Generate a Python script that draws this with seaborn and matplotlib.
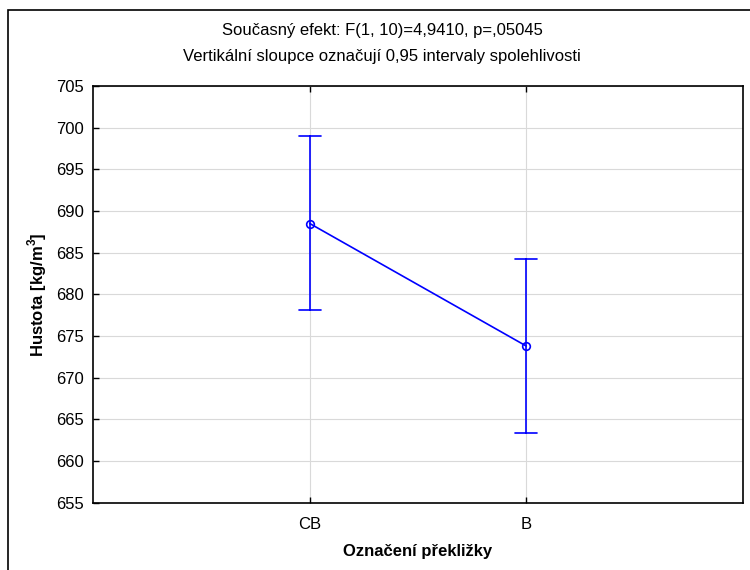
import matplotlib
matplotlib.use("Agg")
import matplotlib.pyplot as plt
import seaborn as sns
import pandas as pd
import numpy as np
from matplotlib.patches import Rectangle

categories = ["CB", "B"]
means = [688.5, 673.8]
ci_lower = [678.1, 663.4]
ci_upper = [699.0, 684.2]
yticks = [655, 660, 665, 670, 675, 680, 685, 690, 695, 700, 705]

rows = []
for c, m, lo, hi in zip(categories, means, ci_lower, ci_upper):
    for v in (lo, m, hi):
        rows.append({"cat": c, "val": v})
df = pd.DataFrame(rows)

sns.set_theme(style="white")
plt.rcParams['font.family'] = ['Liberation Sans', 'DejaVu Sans']
plt.rcParams['text.color'] = 'black'
plt.rcParams['axes.labelcolor'] = 'black'
plt.rcParams['xtick.color'] = 'black'
plt.rcParams['ytick.color'] = 'black'

fig = plt.figure(figsize=(7.5, 5.7), dpi=100)
ax = fig.add_axes([93.3/750, 1 - 502.7/570, (742.7-93.3)/750, (502.7-86)/570])

sns.pointplot(data=df, x="cat", y="val", order=categories, ax=ax,
              estimator="median", errorbar=lambda v: (np.min(v), np.max(v)),
              color="#0000ff", marker="o", markersize=5.5, markerfacecolor="none",
              markeredgewidth=1.2, linewidth=1.2, capsize=0.1,
              err_kws={"linewidth": 1.2})

ax.set_xlim(-1, 2)
ax.set_ylim(655, 705)
ax.set_yticks(yticks)
ax.grid(True, color="#d9d9d9", linewidth=0.8)
ax.set_axisbelow(True)
for s in ax.spines.values():
    s.set_color("black")
    s.set_linewidth(1.2)
ax.tick_params(axis="y", direction="in", length=4, width=1, color="black",
               labelsize=12, pad=7, left=True, labelcolor="black")
ax.tick_params(axis="x", direction="in", length=4, width=1, color="black",
               labelsize=12, pad=10, bottom=True, top=True, labelcolor="black")
ax.set_xlabel("Označení překližky", fontsize=12, fontweight="bold", labelpad=9,
              color="black")
ax.set_ylabel("Hustota [kg/m$^\\mathregular{3}$]", fontsize=12, fontweight="bold",
              labelpad=5, color="black")

fig.text(382/750, 1 - 31/570, "Současný efekt: F(1, 10)=4,9410, p=,05045",
         ha="center", va="center", fontsize=12, color="black")
fig.text(382/750, 1 - 56/570, "Vertikální sloupce označují 0,95 intervaly spolehlivosti",
         ha="center", va="center", fontsize=12, color="black")

fig.patches.append(Rectangle((8/750, -0.1), 1.2, (570-10)/570 + 0.1,
                             transform=fig.transFigure, fill=False,
                             edgecolor="black", linewidth=1.2))

fig.savefig("out.png", dpi=100, facecolor="white")
